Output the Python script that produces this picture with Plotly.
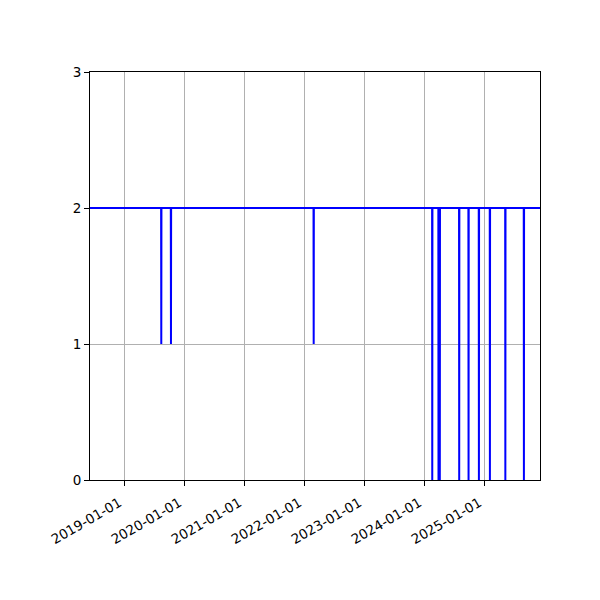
import pandas as pd
import plotly.graph_objects as go

# Series: baseline level and dip events
baseline_level = 2
series_start = "2018-05-01"
series_end = "2026-01-31"
dip_dates = ["2019-08-14", "2019-10-12", "2022-02-27",
             "2024-02-19", "2024-03-28", "2024-04-05",
             "2024-08-01", "2024-09-27", "2024-11-29",
             "2025-02-04", "2025-05-09", "2025-08-30"]
dip_values = [1, 1, 1,
              0, 0, 0,
              0, 0, 0,
              0, 0, 0]

x_tick_labels = ["2019-01-01", "2020-01-01", "2021-01-01", "2022-01-01",
                 "2023-01-01", "2024-01-01", "2025-01-01"]
y_tick_vals = [0, 1, 2, 3]

# Build the daily-style series: level stays at baseline, dropping for one day at each dip
xs = [pd.Timestamp(series_start)]
ys = [baseline_level]
for d, v in zip(dip_dates, dip_values):
    t = pd.Timestamp(d)
    xs += [t - pd.Timedelta(days=1), t, t + pd.Timedelta(days=1)]
    ys += [baseline_level, v, baseline_level]
xs.append(pd.Timestamp(series_end))
ys.append(baseline_level)

fig = go.Figure()
fig.add_trace(go.Scatter(x=xs, y=ys, mode="lines",
                         line=dict(color="#0000ff", width=2),
                         showlegend=False, hoverinfo="skip"))

font = dict(family="DejaVu Sans", size=13.5, color="black")
fig.update_layout(
    width=600, height=600,
    margin=dict(l=82, r=68, t=64, b=128, autoexpand=False),
    paper_bgcolor="white", plot_bgcolor="white",
    font=font,
    showlegend=False,
)
fig.update_xaxes(
    type="date",
    range=["2018-06-06", "2025-12-06"],
    tickvals=x_tick_labels, ticktext=x_tick_labels,
    tickangle=-30,
    ticklabelshift=-5, ticklabelstandoff=4,
    showgrid=True, gridcolor="#b0b0b0", gridwidth=1,
    showline=True, linecolor="black", linewidth=1, mirror=True,
    ticks="outside", ticklen=5, tickcolor="black",
    zeroline=False, automargin=False,
)
fig.update_yaxes(
    range=[0, 3],
    tickvals=y_tick_vals,
    showgrid=True, gridcolor="#b0b0b0", gridwidth=1,
    showline=True, linecolor="black", linewidth=1, mirror=True,
    ticks="outside", ticklen=5, tickcolor="black",
    zeroline=False, automargin=False,
)
fig.write_html("out.html")
